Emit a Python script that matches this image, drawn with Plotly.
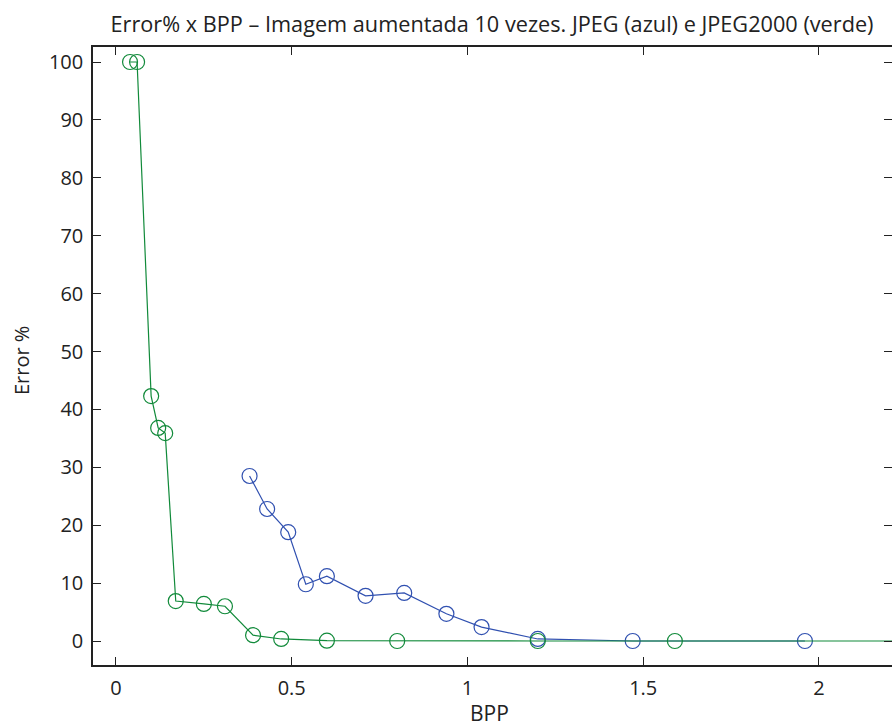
import plotly.graph_objects as go

# JPEG (azul)
jpeg_bpp = [0.38, 0.43, 0.49, 0.54, 0.60, 0.71, 0.82, 0.94, 1.04, 1.20, 1.47, 1.96]
jpeg_err = [28.5, 22.8, 18.8, 9.8, 11.2, 7.8, 8.3, 4.7, 2.4, 0.35, 0.0, 0.0]

# JPEG2000 (verde)
j2k_bpp = [0.04, 0.06, 0.10, 0.12, 0.14, 0.17, 0.25, 0.31, 0.39, 0.47, 0.60, 0.80, 1.20, 1.59, 2.40]
j2k_err = [100.0, 100.0, 42.3, 36.8, 35.9, 6.9, 6.4, 6.0, 1.0, 0.35, 0.05, 0.0, 0.0, 0.0, 0.0]

x_ticks = [0, 0.5, 1, 1.5, 2]
x_labels = ["0", "0.5", "1", "1.5", "2"]
y_ticks = [0, 10, 20, 30, 40, 50, 60, 70, 80, 90, 100]

FONT = "Open Sans, Roboto, Liberation Sans, sans-serif"
BLUE = "#3050b0"
GREEN = "#118a3a"
INK = "#222222"

W, H = 892, 726
L, T, B = 93, 47, 61

fig = go.Figure()
fig.add_trace(go.Scatter(
    x=jpeg_bpp, y=jpeg_err, mode="lines+markers",
    line=dict(color=BLUE, width=1.2),
    marker=dict(symbol="circle-open", size=15, color=BLUE, line=dict(width=1.2)),
    showlegend=False,
))
fig.add_trace(go.Scatter(
    x=j2k_bpp, y=j2k_err, mode="lines+markers",
    line=dict(color=GREEN, width=1.2),
    marker=dict(symbol="circle-open", size=15, color=GREEN, line=dict(width=1.2)),
    showlegend=False,
))
fig.add_trace(go.Scatter(x=[None], y=[None], yaxis="y2", showlegend=False, hoverinfo="skip"))

pw = W - L
ph = H - T - B

fig.update_layout(
    width=W, height=H,
    margin=dict(l=L, r=0, t=T, b=B, pad=0),
    paper_bgcolor="white", plot_bgcolor="white",
    font=dict(family=FONT, size=20, color=INK),
    title=dict(
        text="Error% x BPP \u2013 Imagem aumentada 10 vezes. JPEG (azul) e JPEG2000 (verde)",
        x=492 / W, xref="container", xanchor="center",
        y=1 - 24 / H, yref="container", yanchor="middle",
        font=dict(family=FONT, size=21.7, color=INK),
    ),
    xaxis=dict(
        range=[-0.0654, 2.2077], tickvals=x_ticks, ticktext=x_labels,
        ticks="inside", ticklen=8, tickcolor=INK, tickwidth=1,
        showline=True, linecolor=INK, linewidth=1.5, mirror="ticks",
        showgrid=False, zeroline=False,
        tickfont=dict(size=20), ticklabelstandoff=4,
    ),
    yaxis=dict(
        range=[-4.145, 102.59], tickvals=y_ticks,
        ticks="inside", ticklen=8, tickcolor=INK, tickwidth=1,
        showline=True, linecolor=INK, linewidth=1.5, mirror=False,
        showgrid=False, zeroline=False,
        tickfont=dict(size=20), ticklabelstandoff=4,
    ),
    yaxis2=dict(
        range=[-4.145, 102.59], tickvals=y_ticks, overlaying="y", side="right",
        ticks="inside", ticklen=8, tickcolor=INK, tickwidth=1,
        showline=False, showticklabels=False, showgrid=False, zeroline=False,
    ),
    annotations=[
        dict(text="BPP", xref="paper", yref="paper",
             x=(489 - L) / pw, y=-(713 - (H - B)) / ph,
             xanchor="center", yanchor="middle", showarrow=False,
             font=dict(family=FONT, size=21, color=INK)),
        dict(text="Error %", xref="paper", yref="paper",
             x=(21 - L) / pw, y=((H - B) - 361) / ph, textangle=-90,
             xanchor="center", yanchor="middle", showarrow=False,
             font=dict(family=FONT, size=20, color=INK)),
    ],
)

fig.write_html(
    "out.html",
    config={"displayModeBar": False},
    post_script="document.body.style.margin='0';document.body.style.padding='0';"
                "document.documentElement.style.overflow='hidden';document.body.style.overflow='hidden';",
)
